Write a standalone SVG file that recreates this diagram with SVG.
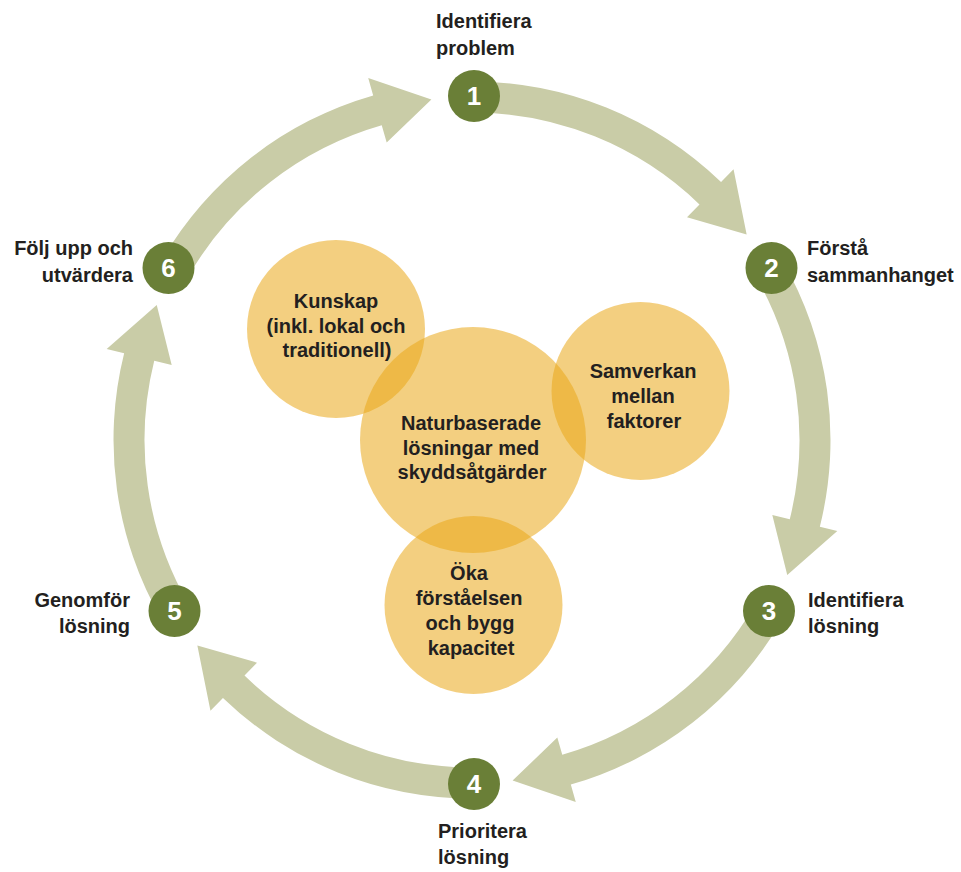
<svg xmlns="http://www.w3.org/2000/svg" width="961" height="872" viewBox="0 0 961 872">
<style>
.arrow{fill:#c9cca7;}
.node circle{fill:#6a7f37;}
.num{font-family:"Liberation Sans",Arial,sans-serif;font-size:26px;font-weight:bold;fill:#ffffff;text-anchor:middle;}
.lbl{font-family:"Liberation Sans",Arial,sans-serif;font-size:20px;font-weight:bold;fill:#231f20;}
.blob circle{fill:#e9a818;fill-opacity:0.55;}
.ctext{font-family:"Liberation Sans",Arial,sans-serif;font-size:20px;font-weight:bold;fill:#231f20;text-anchor:middle;}
</style>
<rect width="961" height="872" fill="#ffffff"/>
<g id="connectors">
<path class="arrow" d="M472,81.5 A358.5,358.5 0 0 1 721.04,182.12 L733.54,169.17 L746.65,234.54 L687.0,217.36 L699.5,204.42 A327.5,327.5 0 0 0 472,112.5 Z"/>
<path class="arrow" transform="rotate(60 472 440)" d="M472,81.5 A358.5,358.5 0 0 1 721.04,182.12 L733.54,169.17 L746.65,234.54 L687.0,217.36 L699.5,204.42 A327.5,327.5 0 0 0 472,112.5 Z"/>
<path class="arrow" transform="rotate(120 472 440)" d="M472,81.5 A358.5,358.5 0 0 1 721.04,182.12 L733.54,169.17 L746.65,234.54 L687.0,217.36 L699.5,204.42 A327.5,327.5 0 0 0 472,112.5 Z"/>
<path class="arrow" transform="rotate(180 472 440)" d="M472,81.5 A358.5,358.5 0 0 1 721.04,182.12 L733.54,169.17 L746.65,234.54 L687.0,217.36 L699.5,204.42 A327.5,327.5 0 0 0 472,112.5 Z"/>
<path class="arrow" transform="rotate(240 472 440)" d="M472,81.5 A358.5,358.5 0 0 1 721.04,182.12 L733.54,169.17 L746.65,234.54 L687.0,217.36 L699.5,204.42 A327.5,327.5 0 0 0 472,112.5 Z"/>
<path class="arrow" transform="rotate(300 472 440)" d="M472,81.5 A358.5,358.5 0 0 1 721.04,182.12 L733.54,169.17 L746.65,234.54 L687.0,217.36 L699.5,204.42 A327.5,327.5 0 0 0 472,112.5 Z"/>
</g>
<g id="node1" class="node">
<circle cx="474" cy="96" r="26"/>
<text class="num" x="474" y="105">1</text>
<text class="lbl" x="436" y="27.5">Identifiera</text>
<text class="lbl" x="436" y="55">problem</text>
</g>
<g id="node2" class="node">
<circle cx="771.5" cy="268" r="26"/>
<text class="num" x="771.5" y="277">2</text>
<text class="lbl" x="807" y="254.5">Förstå</text>
<text class="lbl" x="807" y="281.5">sammanhanget</text>
</g>
<g id="node3" class="node">
<circle cx="769" cy="611" r="26"/>
<text class="num" x="769" y="620">3</text>
<text class="lbl" x="808" y="606.5">Identifiera</text>
<text class="lbl" x="808" y="633">lösning</text>
</g>
<g id="node4" class="node">
<circle cx="474" cy="784" r="26"/>
<text class="num" x="474" y="793">4</text>
<text class="lbl" x="438" y="837.5">Prioritera</text>
<text class="lbl" x="438" y="863.5">lösning</text>
</g>
<g id="node5" class="node">
<circle cx="174.5" cy="611" r="26"/>
<text class="num" x="174.5" y="620">5</text>
<text class="lbl" x="130" y="606.5" text-anchor="end">Genomför</text>
<text class="lbl" x="130" y="633" text-anchor="end">lösning</text>
</g>
<g id="node6" class="node">
<circle cx="168.5" cy="268" r="26"/>
<text class="num" x="168.5" y="277">6</text>
<text class="lbl" x="133" y="255" text-anchor="end">Följ upp och</text>
<text class="lbl" x="133" y="282" text-anchor="end">utvärdera</text>
</g>
<g id="center-circles" class="blob">
<circle id="kunskap-circle" cx="336" cy="329" r="89"/>
<circle id="samverkan-circle" cx="640.5" cy="391" r="89"/>
<circle id="naturbaserade-circle" cx="473" cy="440" r="113"/>
<circle id="oka-circle" cx="473.5" cy="605" r="89"/>
</g>
<g id="kunskap">
<text class="ctext" x="336" y="308">Kunskap</text>
<text class="ctext" x="336" y="332.5">(inkl. lokal och</text>
<text class="ctext" x="337" y="357">traditionell)</text>
</g>
<g id="samverkan">
<text class="ctext" x="643" y="377.5">Samverkan</text>
<text class="ctext" x="643" y="402.5">mellan</text>
<text class="ctext" x="644" y="427.5">faktorer</text>
</g>
<g id="naturbaserade">
<text class="ctext" x="471" y="430">Naturbaserade</text>
<text class="ctext" x="471" y="454.5">lösningar med</text>
<text class="ctext" x="472" y="479">skyddsåtgärder</text>
</g>
<g id="oka">
<text class="ctext" x="469" y="580">Öka</text>
<text class="ctext" x="469" y="605">förståelsen</text>
<text class="ctext" x="470" y="630">och bygg</text>
<text class="ctext" x="471" y="655">kapacitet</text>
</g>
</svg>
